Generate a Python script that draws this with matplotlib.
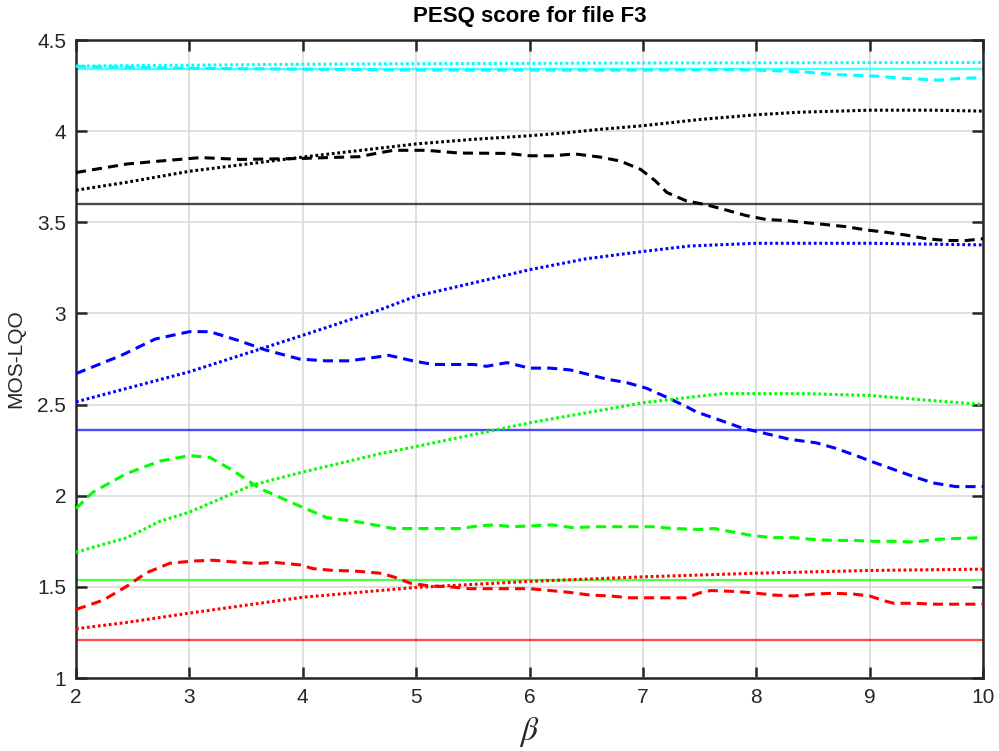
import matplotlib
matplotlib.use("Agg")
import matplotlib.pyplot as plt

plt.rcParams['font.family'] = ['Liberation Sans', 'DejaVu Sans']
plt.rcParams['mathtext.fontset'] = 'stix'

title = "PESQ score for file F3"
xlabel = r"$\beta$"
ylabel = "MOS-LQO"
xticks = [2, 3, 4, 5, 6, 7, 8, 9, 10]
yticks = [1, 1.5, 2, 2.5, 3, 3.5, 4, 4.5]

# reference (solid, constant) levels
ref_cyan = 4.34
ref_black = 3.60
ref_blue = 2.36
ref_green = 1.535
ref_red = 1.21

# cyan
cyan_dot_x = [2, 3, 4, 5, 6, 7, 8, 9, 10]
cyan_dot_y = [4.357, 4.362, 4.367, 4.37, 4.372, 4.374, 4.375, 4.376, 4.377]
cyan_dash_x = [2, 2.5, 3, 4, 5, 6, 7, 7.7, 8, 8.4, 8.7, 9, 9.3, 9.6, 9.8, 10]
cyan_dash_y = [4.355, 4.35, 4.345, 4.34, 4.335, 4.335, 4.335, 4.338, 4.335, 4.326, 4.31, 4.304, 4.29, 4.28, 4.29, 4.293]

# black
black_dot_x = [2, 2.45, 3, 4, 5, 5.5, 6, 6.3, 6.62, 7, 7.5, 8, 8.38, 9, 9.56, 10]
black_dot_y = [3.676, 3.72, 3.78, 3.858, 3.93, 3.955, 3.975, 3.99, 4.01, 4.03, 4.064, 4.09, 4.104, 4.115, 4.115, 4.11]
black_dash_x = [2, 2.45, 2.74, 3.1, 3.45, 3.98, 4.21, 4.5, 4.62, 4.8, 5.09, 5.38, 5.8, 6.0, 6.2, 6.4, 6.62, 6.8, 6.98,
                7.11, 7.21, 7.38, 7.56, 7.73, 7.91, 8.09, 8.26, 8.44, 8.62, 8.79, 8.97, 9.15, 9.32, 9.5, 9.68, 9.85, 10]
black_dash_y = [3.773, 3.82, 3.836, 3.855, 3.845, 3.85, 3.855, 3.86, 3.875, 3.895, 3.895, 3.88, 3.878, 3.865, 3.865, 3.875,
                3.858, 3.836, 3.79, 3.727, 3.664, 3.618, 3.596, 3.568, 3.537, 3.515, 3.51, 3.498, 3.487, 3.476, 3.458,
                3.445, 3.43, 3.41, 3.40, 3.40, 3.41]

# blue
blue_dot_x = [2, 3, 4, 4.68, 5, 5.59, 6, 6.5, 7, 7.41, 8, 9, 10]
blue_dot_y = [2.515, 2.68, 2.88, 3.02, 3.095, 3.18, 3.24, 3.30, 3.34, 3.37, 3.385, 3.385, 3.376]
blue_dash_x = [2, 2.4, 2.7, 3, 3.18, 3.44, 3.67, 3.97, 4.2, 4.41, 4.76, 4.97, 5.15, 5.51, 5.62, 5.8, 6.0, 6.18, 6.36,
               6.68, 6.86, 7.03, 7.21, 7.38, 7.47, 7.7, 7.88, 8.09, 8.29, 8.53, 8.7, 8.88, 9.05, 9.23, 9.41, 9.56,
               9.76, 10]
blue_dash_y = [2.67, 2.77, 2.86, 2.90, 2.90, 2.85, 2.80, 2.75, 2.74, 2.74, 2.77, 2.74, 2.72, 2.72, 2.71, 2.73, 2.70,
               2.70, 2.69, 2.64, 2.62, 2.59, 2.54, 2.49, 2.46, 2.41, 2.37, 2.34, 2.31, 2.29, 2.26, 2.22, 2.18, 2.14,
               2.10, 2.07, 2.05, 2.05]

# green
green_dot_x = [2, 2.45, 2.74, 3, 3.56, 4, 4.68, 5, 6, 7, 7.41, 7.7, 8, 8.44, 9, 9.47, 10]
green_dot_y = [1.69, 1.77, 1.86, 1.91, 2.06, 2.13, 2.23, 2.27, 2.40, 2.51, 2.54, 2.56, 2.56, 2.56, 2.55, 2.526, 2.50]
green_dash_x = [2, 2.15, 2.44, 2.74, 3, 3.18, 3.38, 3.62, 3.91, 4.21, 4.5, 4.8, 5.38, 5.56, 5.68, 5.85, 6.03, 6.2,
                6.38, 6.6, 7.09, 7.27, 7.5, 7.63, 7.8, 7.98, 8.15, 8.33, 8.5, 8.68, 8.86, 9.04, 9.21, 9.39, 9.57, 9.74,
                10]
green_dash_y = [1.93, 2.02, 2.12, 2.19, 2.22, 2.21, 2.14, 2.04, 1.96, 1.88, 1.855, 1.82, 1.82, 1.835, 1.84, 1.83,
                1.835, 1.84, 1.825, 1.83, 1.83, 1.82, 1.815, 1.82, 1.80, 1.78, 1.77, 1.77, 1.76, 1.755, 1.755, 1.75,
                1.75, 1.746, 1.76, 1.765, 1.77]

# red
red_dot_x = [2, 2.45, 3, 4, 4.68, 5, 6, 7, 8, 9, 10]
red_dot_y = [1.27, 1.305, 1.356, 1.443, 1.48, 1.497, 1.53, 1.555, 1.575, 1.59, 1.597]
red_dash_x = [2, 2.24, 2.45, 2.62, 2.83, 3.04, 3.21, 3.39, 3.59, 3.74, 3.98, 4.09, 4.27, 4.45, 4.68, 4.8, 4.95, 5.12,
              5.3, 5.47, 5.82, 6.0, 6.18, 6.35, 6.53, 6.71, 6.88, 7.06, 7.24, 7.38, 7.5, 7.6, 7.8, 7.98, 8.15, 8.33,
              8.5, 8.68, 8.86, 9.0, 9.12, 9.21, 9.39, 9.57, 9.74, 10]
red_dash_y = [1.376, 1.427, 1.504, 1.577, 1.63, 1.642, 1.646, 1.637, 1.628, 1.635, 1.62, 1.60, 1.59, 1.587, 1.575,
              1.555, 1.52, 1.505, 1.50, 1.49, 1.49, 1.49, 1.48, 1.47, 1.455, 1.45, 1.44, 1.44, 1.44, 1.44, 1.467,
              1.48, 1.475, 1.467, 1.455, 1.45, 1.46, 1.465, 1.46, 1.45, 1.425, 1.41, 1.41, 1.405, 1.405, 1.405]

fig = plt.figure(figsize=(9.99, 7.51), dpi=100)
ax = fig.add_axes([0.0761, 0.0972, 0.908, 0.8495])

lw = 2.2
dash = (3.3, 2.0)
dot = (0.9, 0.9)
solid_lw = 1.7
solid_alpha = 0.7

series = [
    ('#00ffff', cyan_dot_x, cyan_dot_y, cyan_dash_x, cyan_dash_y, ref_cyan),
    ('#000000', black_dot_x, black_dot_y, black_dash_x, black_dash_y, ref_black),
    ('#0000ff', blue_dot_x, blue_dot_y, blue_dash_x, blue_dash_y, ref_blue),
    ('#00ff00', green_dot_x, green_dot_y, green_dash_x, green_dash_y, ref_green),
    ('#ff0000', red_dot_x, red_dot_y, red_dash_x, red_dash_y, ref_red),
]
for color, dx, dy, sx, sy, ref in series:
    ax.axhline(ref, color=color, lw=solid_lw, alpha=solid_alpha, zorder=2)
    ax.plot(sx, sy, color=color, lw=lw, dashes=dash, dash_capstyle='butt', zorder=3)
    ax.plot(dx, dy, color=color, lw=lw, dashes=dot, dash_capstyle='butt', zorder=3)

ax.set_xlim(2, 10)
ax.set_ylim(1, 4.5)
ax.set_xticks(xticks)
ax.set_yticks(yticks)
ax.set_xticklabels([str(t) for t in xticks])
ax.set_yticklabels(['1', '1.5', '2', '2.5', '3', '3.5', '4', '4.5'])
ax.grid(True, color='#dadada', lw=1.2)
ax.set_axisbelow(True)
for s in ax.spines.values():
    s.set_linewidth(1.8)
    s.set_color('#262626')
ax.tick_params(direction='in', length=8, width=1.8, color='#262626', labelsize=15,
               labelcolor='#262626', top=True, right=True, pad=7)

ax.set_title(title, fontsize=16, fontweight='bold', color='#000000', pad=13)
ax.set_xlabel(xlabel, fontsize=24, color='#262626', labelpad=6)
ax.set_ylabel(ylabel, fontsize=15, color='#262626', labelpad=9)

fig.savefig('out.png', dpi=100)
